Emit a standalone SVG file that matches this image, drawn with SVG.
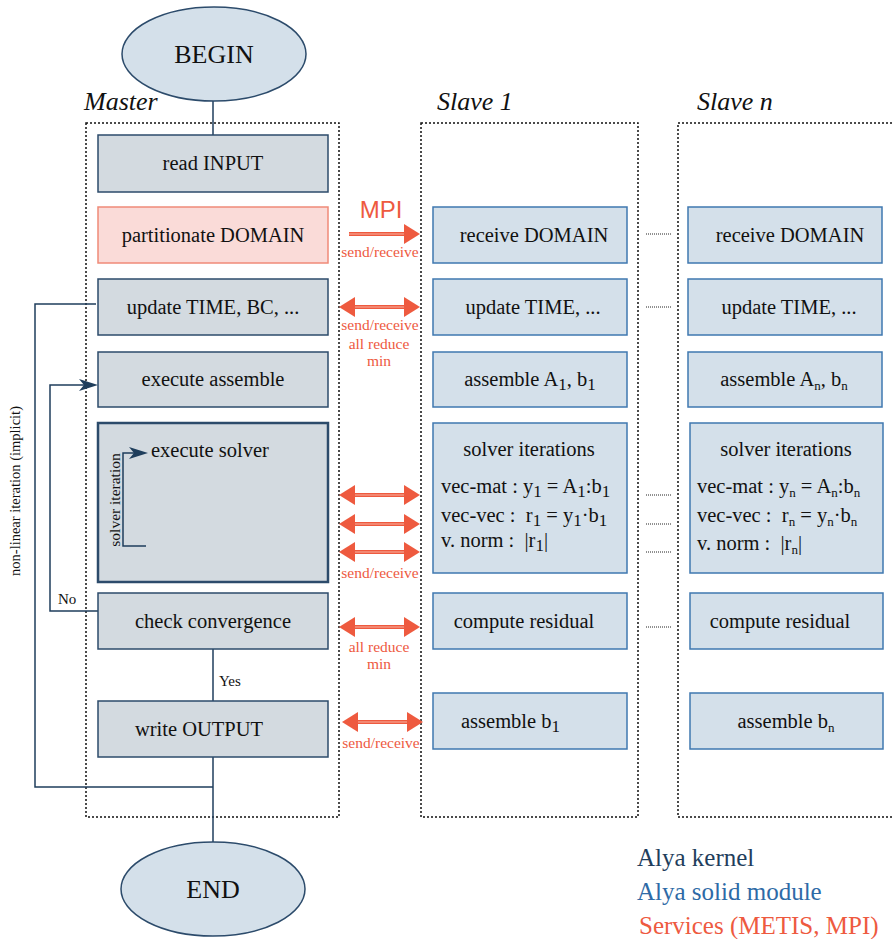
<svg xmlns="http://www.w3.org/2000/svg" xmlns:xlink="http://www.w3.org/1999/xlink" width="892" height="939" viewBox="0 0 892 939">
<style>
text{font-family:"Liberation Serif","Times New Roman",serif;fill:#111;white-space:pre}
.lbl{font-size:20.5px;text-anchor:middle}
.lft{font-size:20.5px}
.hd{font-size:26px;font-style:italic}
.mb{fill:#d3dae0;stroke:#2c4b6b;stroke-width:1.5}
.sb{fill:#d4e0ea;stroke:#3f78b0;stroke-width:1.5}
.ell{fill:#d4e0ea;stroke:#2c4b6b;stroke-width:1.5}
.cont{fill:none;stroke:#111;stroke-width:1.5;stroke-dasharray:2 2}
.con{fill:none;stroke:#1f3e5c;stroke-width:1.5}
.dot{stroke:#222;stroke-width:1;stroke-dasharray:1 1}
.red{fill:#ee5a3f;font-size:15.5px;text-anchor:middle}
.sub{font-size:17px}
.subn{font-size:13px}
.leg{font-size:25px}
</style>
<defs>
<g id="da">
<line x1="14" y1="0" x2="67" y2="0" stroke="#ee5a3f" stroke-width="4"/>
<line x1="14" y1="0" x2="67" y2="0" stroke="#f7b3a3" stroke-width="1.2"/>
<polygon points="0,0 16,-10 16,10" fill="#ee5a3f"/>
<polygon points="81,0 65,-10 65,10" fill="#ee5a3f"/>
</g>
</defs>

<!-- containers -->
<g id="containers">
<rect class="cont" x="86" y="123" width="253" height="694"/>
<rect class="cont" x="421" y="123" width="217" height="694"/>
<rect class="cont" x="678" y="123" width="230" height="694"/>
<text class="hd" x="84" y="110">Master</text>
<text class="hd" x="437" y="110">Slave 1</text>
<text class="hd" x="697" y="110">Slave n</text>
</g>

<!-- connectors -->
<g id="connectors">
<line class="con" x1="213" y1="101" x2="213" y2="135"/>
<line class="con" x1="213" y1="649" x2="213" y2="701"/>
<line class="con" x1="213" y1="757" x2="213" y2="842"/>
<path class="con" d="M213,787 H35 V304 H96"/>
<path class="con" d="M98,611 H50 V385 H84"/>
<polygon points="79,379 98,385 79,391 84,385" fill="#1f3e5c"/>
<text x="58" y="604" style="font-size:15px">No</text>
<text x="219" y="686" style="font-size:15px">Yes</text>
<text transform="translate(20,491) rotate(-90)" style="font-size:14.5px;text-anchor:middle">non-linear iteration (implicit)</text>
<!-- MPI arrows -->
<text x="381" y="218" style="font-family:'Liberation Sans',Arial,sans-serif;font-size:24px;fill:#ee5a3f;text-anchor:middle">MPI</text>
<line x1="349" y1="234" x2="406" y2="234" stroke="#ee5a3f" stroke-width="4"/>
<line x1="349" y1="234" x2="406" y2="234" stroke="#f7b3a3" stroke-width="1.2"/>
<polygon points="420,234 404,224 404,244" fill="#ee5a3f"/>
<text class="red" x="380" y="257">send/receive</text>
<use xlink:href="#da" x="339" y="307"/>
<text class="red" x="380" y="330">send/receive</text>
<text class="red" x="379" y="349">all reduce</text>
<text class="red" x="379" y="366">min</text>
<use xlink:href="#da" x="339" y="495"/>
<use xlink:href="#da" x="339" y="524"/>
<use xlink:href="#da" x="339" y="552"/>
<text class="red" x="380" y="578">send/receive</text>
<use xlink:href="#da" x="339" y="627"/>
<text class="red" x="379" y="652">all reduce</text>
<text class="red" x="379" y="669">min</text>
<use xlink:href="#da" x="342" y="722"/>
<text class="red" x="381" y="748">send/receive</text>
<!-- dotted links between slaves -->
<line class="dot" x1="646" y1="234" x2="671" y2="234"/>
<line class="dot" x1="646" y1="307" x2="671" y2="307"/>
<line class="dot" x1="646" y1="495" x2="671" y2="495"/>
<line class="dot" x1="646" y1="524" x2="671" y2="524"/>
<line class="dot" x1="646" y1="552" x2="671" y2="552"/>
<line class="dot" x1="646" y1="627" x2="671" y2="627"/>
</g>

<!-- begin / end -->
<g id="begin">
<ellipse class="ell" cx="214" cy="54" rx="92" ry="47"/>
<text x="214" y="63" style="font-size:26px;text-anchor:middle">BEGIN</text>
</g>
<g id="end">
<ellipse class="ell" cx="213" cy="889" rx="92" ry="47"/>
<text x="213" y="898" style="font-size:26px;text-anchor:middle">END</text>
</g>

<!-- master nodes -->
<g id="m-read"><rect class="mb" x="98" y="135" width="230" height="57"/><text class="lbl" x="213" y="170">read INPUT</text></g>
<g id="m-part"><rect x="98" y="207" width="230" height="56" fill="#fadbd8" stroke="#f08a78" stroke-width="1.5"/><text class="lbl" x="213" y="242">partitionate DOMAIN</text></g>
<g id="m-update"><rect class="mb" x="98" y="279" width="230" height="56"/><text class="lbl" x="213" y="314">update TIME, BC, ...</text></g>
<g id="m-assemble"><rect class="mb" x="98" y="352" width="230" height="55"/><text class="lbl" x="213" y="386">execute assemble</text></g>
<g id="m-solver">
<rect x="98" y="423" width="230" height="159" fill="#d3dae0" stroke="#2c4b6b" stroke-width="2.5"/>
<text class="lft" x="151" y="457">execute solver</text>
<path class="con" d="M146,546 H123 V453 H136"/>
<polygon points="129,447 148,453 129,459 134,453" fill="#1f3e5c"/>
<text transform="translate(120,500) rotate(-90)" style="font-size:15.5px;text-anchor:middle">solver iteration</text>
</g>
<g id="m-check"><rect class="mb" x="98" y="593" width="230" height="56"/><text class="lbl" x="213" y="628">check convergence</text></g>
<g id="m-write"><rect class="mb" x="98" y="701" width="230" height="56"/><text class="lbl" x="199" y="736">write OUTPUT</text></g>

<!-- slave 1 nodes -->
<g id="s1-receive"><rect class="sb" x="433" y="207" width="194" height="56"/><text class="lbl" x="534" y="242">receive DOMAIN</text></g>
<g id="s1-update"><rect class="sb" x="433" y="279" width="194" height="56"/><text class="lbl" x="533" y="314">update TIME, ...</text></g>
<g id="s1-assemble"><rect class="sb" x="433" y="352" width="194" height="55"/><text class="lbl" x="530" y="386">assemble A<tspan class="sub" dy="4">1</tspan><tspan dy="-4">, b</tspan><tspan class="sub" dy="4">1</tspan></text></g>
<g id="s1-solver">
<rect class="sb" x="433" y="423" width="194" height="150"/>
<text class="lbl" x="529" y="456">solver iterations</text>
<text class="lft" x="441" y="493">vec-mat : y<tspan class="sub" dy="4">1</tspan><tspan dy="-4"> = A</tspan><tspan class="sub" dy="4">1</tspan><tspan dy="-4">:b</tspan><tspan class="sub" dy="4">1</tspan></text>
<text class="lft" x="441" y="522">vec-vec :  r<tspan class="sub" dy="4">1</tspan><tspan dy="-4"> = y</tspan><tspan class="sub" dy="4">1</tspan><tspan dy="-4">·b</tspan><tspan class="sub" dy="4">1</tspan></text>
<text class="lft" x="441" y="547">v. norm :  |r<tspan class="sub" dy="4">1</tspan><tspan dy="-4">|</tspan></text>
</g>
<g id="s1-residual"><rect class="sb" x="433" y="593" width="194" height="56"/><text class="lbl" x="524" y="628">compute residual</text></g>
<g id="s1-assembleb"><rect class="sb" x="433" y="693" width="194" height="56"/><text class="lft" x="461" y="728">assemble b<tspan class="sub" dy="4">1</tspan></text></g>

<!-- slave n nodes -->
<g id="sn-receive"><rect class="sb" x="688" y="207" width="194" height="56"/><text class="lbl" x="790" y="242">receive DOMAIN</text></g>
<g id="sn-update"><rect class="sb" x="688" y="279" width="194" height="56"/><text class="lbl" x="789" y="314">update TIME, ...</text></g>
<g id="sn-assemble"><rect class="sb" x="688" y="352" width="194" height="55"/><text class="lbl" x="784" y="386">assemble A<tspan class="subn" dy="4">n</tspan><tspan dy="-4">, b</tspan><tspan class="subn" dy="4">n</tspan></text></g>
<g id="sn-solver">
<rect class="sb" x="690" y="423" width="193" height="150"/>
<text class="lbl" x="786" y="456">solver iterations</text>
<text class="lft" x="697" y="493">vec-mat : y<tspan class="subn" dy="4">n</tspan><tspan dy="-4"> = A</tspan><tspan class="subn" dy="4">n</tspan><tspan dy="-4">:b</tspan><tspan class="subn" dy="4">n</tspan></text>
<text class="lft" x="697" y="522">vec-vec :  r<tspan class="subn" dy="4">n</tspan><tspan dy="-4"> = y</tspan><tspan class="subn" dy="4">n</tspan><tspan dy="-4">·b</tspan><tspan class="subn" dy="4">n</tspan></text>
<text class="lft" x="697" y="550">v. norm :  |r<tspan class="subn" dy="4">n</tspan><tspan dy="-4">|</tspan></text>
</g>
<g id="sn-residual"><rect class="sb" x="690" y="593" width="193" height="56"/><text class="lbl" x="780" y="628">compute residual</text></g>
<g id="sn-assembleb"><rect class="sb" x="690" y="693" width="193" height="56"/><text class="lbl" x="786" y="728">assemble b<tspan class="subn" dy="4">n</tspan></text></g>

<!-- legend -->
<g id="legend">
<text class="leg" x="637" y="866" style="fill:#1f3e5c">Alya kernel</text>
<text class="leg" x="637" y="900" style="fill:#2e6aa6">Alya solid module</text>
<text class="leg" x="639" y="934" style="fill:#ee5a3f">Services (METIS, MPI)</text>
</g>
</svg>
